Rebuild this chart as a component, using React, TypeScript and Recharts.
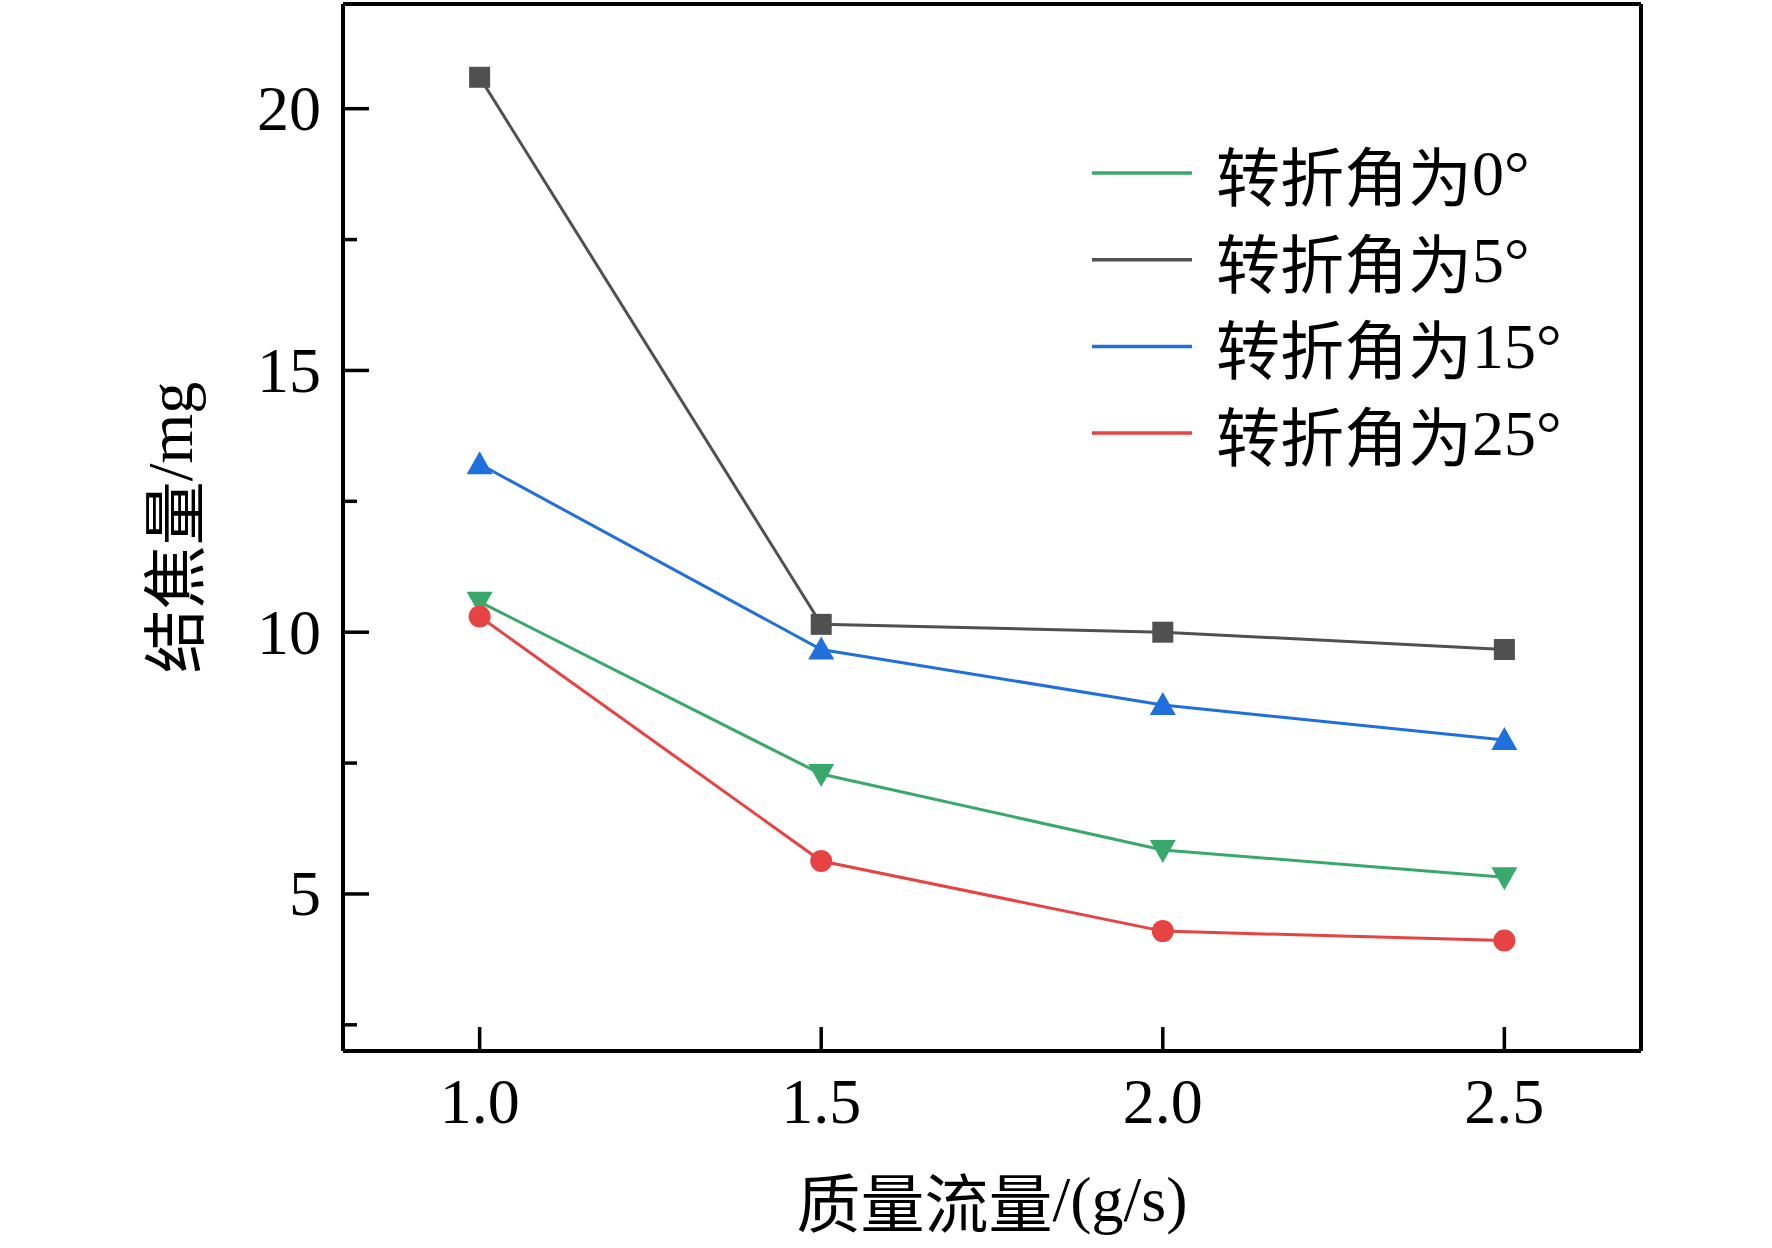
import React from "react";
import { LineChart, Line, XAxis, YAxis, ReferenceLine } from "recharts";

const flowRates = [1.0, 1.5, 2.0, 2.5];
const angle0 = [10.58, 7.29, 5.84, 5.32];
const angle5 = [20.6, 10.15, 10.0, 9.67];
const angle15 = [13.21, 9.67, 8.61, 7.94];
const angle25 = [10.3, 5.63, 4.29, 4.11];

const xTicks = [1.0, 1.5, 2.0, 2.5];
const yTicks = [2.5, 5, 7.5, 10, 12.5, 15, 17.5, 20];
const yMajor = [5, 10, 15, 20];

const SERIF = '"Liberation Serif", serif';
const CJK = '"Noto Sans CJK SC", sans-serif';
const GREEN = "#39a96b";
const GRAY = "#505050";
const BLUE = "#1f6fdc";
const RED = "#e84343";

const data = flowRates.map((x, i) => ({
  x,
  a0: angle0[i],
  a5: angle5[i],
  a15: angle15[i],
  a25: angle25[i],
}));

const series = [
  { key: "a0", name: "转折角为", deg: "0°", color: GREEN, shape: "down" },
  { key: "a5", name: "转折角为", deg: "5°", color: GRAY, shape: "square" },
  { key: "a15", name: "转折角为", deg: "15°", color: BLUE, shape: "up" },
  { key: "a25", name: "转折角为", deg: "25°", color: RED, shape: "circle" },
];

function makeDot(shape: string, color: string) {
  return (props: any) => {
    const { cx, cy, index } = props;
    if (cx == null || cy == null) return <g key={index} />;
    if (shape === "square")
      return <rect key={index} x={cx - 10.5} y={cy - 10.5} width={21} height={21} fill={color} />;
    if (shape === "circle") return <circle key={index} cx={cx} cy={cy} r={11} fill={color} />;
    if (shape === "up")
      return (
        <polygon
          key={index}
          points={`${cx},${cy - 13} ${cx - 13},${cy + 10} ${cx + 13},${cy + 10}`}
          fill={color}
        />
      );
    return (
      <polygon
        key={index}
        points={`${cx},${cy + 13} ${cx - 13},${cy - 10} ${cx + 13},${cy - 10}`}
        fill={color}
      />
    );
  };
}

function YTick(props: any) {
  const { x, y, payload } = props;
  const major = yMajor.includes(payload.value);
  return (
    <g>
      <line x1={x} x2={x + (major ? 26 : 14)} y1={y} y2={y} stroke="#000" strokeWidth={3.5} />
      {major && (
        <text x={x - 22} y={y} textAnchor="end" dominantBaseline="central" fontSize={64} fontFamily={SERIF} fill="#000">
          {payload.value}
        </text>
      )}
    </g>
  );
}

function XTick(props: any) {
  const { x, y, payload } = props;
  return (
    <g>
      <line x1={x} x2={x} y1={y} y2={y - 24} stroke="#000" strokeWidth={3.5} />
      <text x={x} y={y + 50} textAnchor="middle" dominantBaseline="central" fontSize={64} fontFamily={SERIF} fill="#000">
        {payload.value.toFixed(1)}
      </text>
    </g>
  );
}

function LegendBox() {
  return (
    <svg width={580} height={420} style={{ position: "absolute", left: 1092, top: 100 }}>
      {series.map((s, i) => {
        const y = 73 + i * 86.7;
        return (
          <g key={s.key}>
            <line x1={0} x2={100} y1={y} y2={y} stroke={s.color} strokeWidth={3.5} />
            <text x={124} y={y} dominantBaseline="central" fontSize={64} fill="#000">
              <tspan fontFamily={CJK}>{s.name}</tspan>
              <tspan fontFamily={SERIF}>{s.deg}</tspan>
            </text>
          </g>
        );
      })}
    </svg>
  );
}

export default function App() {
  return (
    <div style={{ position: "absolute", left: 0, top: 0, width: 1772, height: 1248, background: "#fff" }}>
      <LineChart
        width={1772}
        height={1248}
        data={data}
        margin={{ top: 4, right: 131, left: 243, bottom: 137 }}
      >
        <XAxis
          dataKey="x"
          type="number"
          domain={[0.8, 2.7]}
          ticks={xTicks}
          interval={0}
          tick={<XTick />}
          tickLine={false}
          tickSize={0}
          tickMargin={0}
          height={60}
          axisLine={{ stroke: "#000", strokeWidth: 4 }}
          label={{
            content: (p: any) => {
              const vb = p.viewBox;
              return (
                <text x={vb.x + vb.width / 2} y={vb.y + 148} textAnchor="middle" dominantBaseline="central" fontSize={64} fill="#000">
                  <tspan fontFamily={CJK}>质量流量</tspan>
                  <tspan fontFamily={SERIF}>/(g/s)</tspan>
                </text>
              );
            },
          }}
        />
        <YAxis
          type="number"
          domain={[2, 22]}
          ticks={yTicks}
          interval={0}
          tick={<YTick />}
          tickLine={false}
          tickSize={0}
          tickMargin={0}
          width={100}
          axisLine={{ stroke: "#000", strokeWidth: 4 }}
          label={{
            content: (p: any) => {
              const vb = p.viewBox;
              const cx = vb.x - 73;
              const cy = vb.y + vb.height / 2;
              return (
                <text x={cx} y={cy} transform={`rotate(-90 ${cx} ${cy})`} textAnchor="middle" dominantBaseline="central" fontSize={64} fill="#000">
                  <tspan fontFamily={CJK}>结焦量</tspan>
                  <tspan fontFamily={SERIF}>/mg</tspan>
                </text>
              );
            },
          }}
        />
        <ReferenceLine y={22} stroke="#000" strokeWidth={4} ifOverflow="visible" />
        <ReferenceLine x={2.7} stroke="#000" strokeWidth={4} ifOverflow="visible" />
        {series.map((s) => (
          <Line
            key={s.key}
            dataKey={s.key}
            name={s.name + s.deg}
            type="linear"
            stroke={s.color}
            strokeWidth={3}
            dot={makeDot(s.shape, s.color)}
            activeDot={false}
            isAnimationActive={false}
          />
        ))}
      </LineChart>
      <LegendBox />
    </div>
  );
}
